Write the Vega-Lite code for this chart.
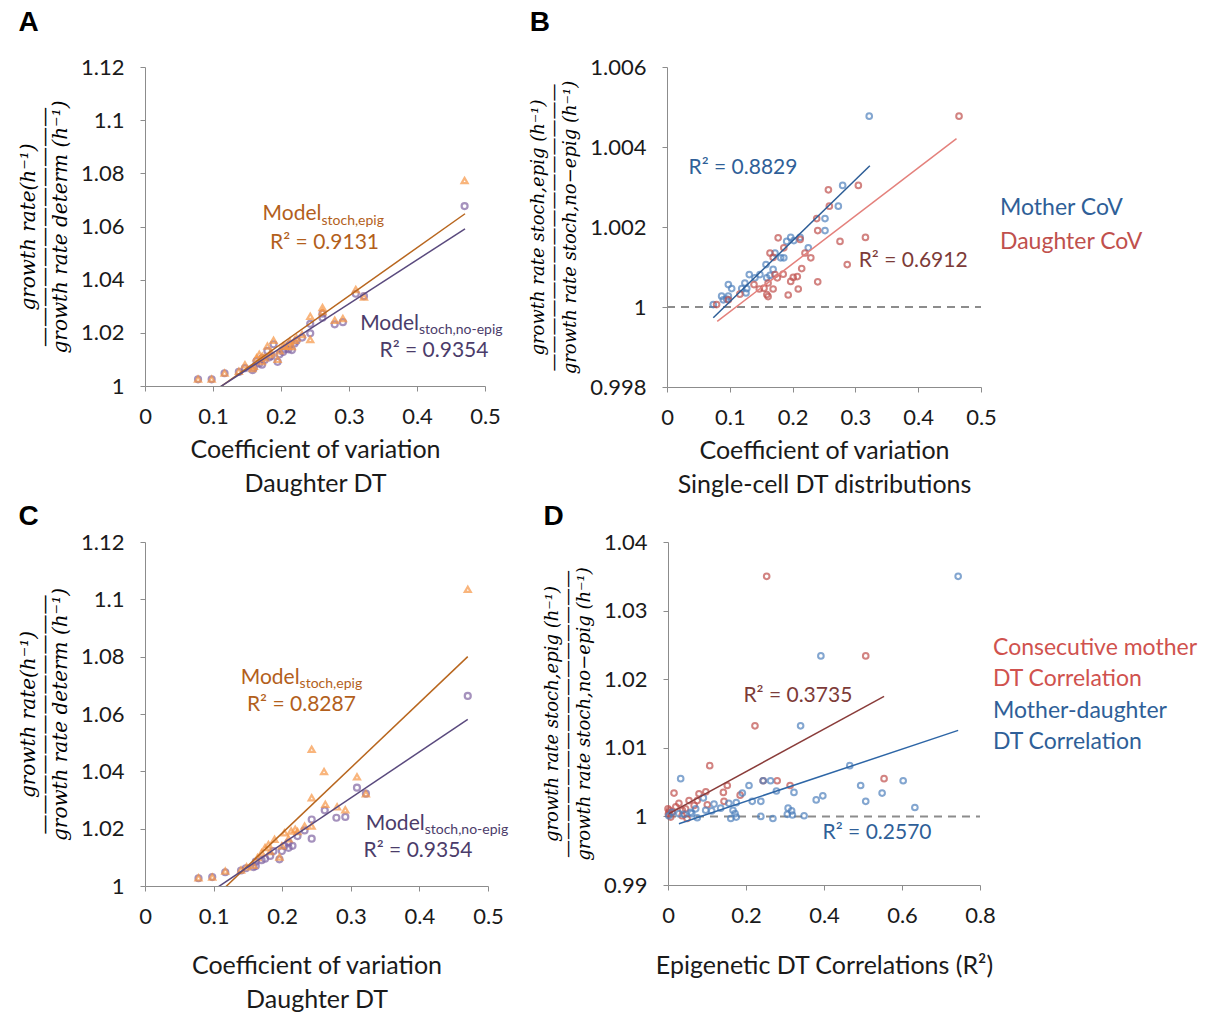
{
"$schema": "https://vega.github.io/schema/vega-lite/v6.json",
"background": "white",
"padding": {"left": 18, "top": 9, "right": 5, "bottom": 2},
"datasets": {
"pts": [
{"p":"A","s":"noepig","x":0.078,"y":1.0025},{"p":"A","s":"noepig","x":0.098,"y":1.0025},{"p":"A","s":"noepig","x":0.117,"y":1.0048},{"p":"A","s":"noepig","x":0.138,"y":1.0053},{"p":"A","s":"noepig","x":0.147,"y":1.0067},{"p":"A","s":"noepig","x":0.158,"y":1.006},{"p":"A","s":"noepig","x":0.16,"y":1.0068},{"p":"A","s":"noepig","x":0.164,"y":1.0094},{"p":"A","s":"noepig","x":0.168,"y":1.0085},{"p":"A","s":"noepig","x":0.172,"y":1.008},{"p":"A","s":"noepig","x":0.1725,"y":1.0105},{"p":"A","s":"noepig","x":0.176,"y":1.0098},{"p":"A","s":"noepig","x":0.18,"y":1.0132},{"p":"A","s":"noepig","x":0.183,"y":1.0108},{"p":"A","s":"noepig","x":0.186,"y":1.0113},{"p":"A","s":"noepig","x":0.189,"y":1.0157},{"p":"A","s":"noepig","x":0.195,"y":1.0091},{"p":"A","s":"noepig","x":0.198,"y":1.0119},{"p":"A","s":"noepig","x":0.203,"y":1.0128},{"p":"A","s":"noepig","x":0.206,"y":1.0138},{"p":"A","s":"noepig","x":0.211,"y":1.0138},{"p":"A","s":"noepig","x":0.213,"y":1.0157},{"p":"A","s":"noepig","x":0.216,"y":1.0135},{"p":"A","s":"noepig","x":0.22,"y":1.016},{"p":"A","s":"noepig","x":0.223,"y":1.017},{"p":"A","s":"noepig","x":0.231,"y":1.0182},{"p":"A","s":"noepig","x":0.243,"y":1.0198},{"p":"A","s":"noepig","x":0.243,"y":1.0234},{"p":"A","s":"noepig","x":0.261,"y":1.0257},{"p":"A","s":"noepig","x":0.261,"y":1.0272},{"p":"A","s":"noepig","x":0.279,"y":1.0232},{"p":"A","s":"noepig","x":0.291,"y":1.024},{"p":"A","s":"noepig","x":0.31,"y":1.0347},{"p":"A","s":"noepig","x":0.322,"y":1.0338},{"p":"A","s":"noepig","x":0.47,"y":1.0677},
{"p":"A","s":"epig","x":0.078,"y":1.0026},{"p":"A","s":"epig","x":0.098,"y":1.0026},{"p":"A","s":"epig","x":0.117,"y":1.0049},{"p":"A","s":"epig","x":0.138,"y":1.0055},{"p":"A","s":"epig","x":0.147,"y":1.008},{"p":"A","s":"epig","x":0.158,"y":1.0066},{"p":"A","s":"epig","x":0.16,"y":1.0074},{"p":"A","s":"epig","x":0.164,"y":1.0106},{"p":"A","s":"epig","x":0.168,"y":1.0119},{"p":"A","s":"epig","x":0.172,"y":1.0092},{"p":"A","s":"epig","x":0.1725,"y":1.0112},{"p":"A","s":"epig","x":0.176,"y":1.0106},{"p":"A","s":"epig","x":0.18,"y":1.015},{"p":"A","s":"epig","x":0.183,"y":1.0118},{"p":"A","s":"epig","x":0.186,"y":1.0125},{"p":"A","s":"epig","x":0.189,"y":1.0172},{"p":"A","s":"epig","x":0.195,"y":1.01},{"p":"A","s":"epig","x":0.198,"y":1.0132},{"p":"A","s":"epig","x":0.203,"y":1.015},{"p":"A","s":"epig","x":0.206,"y":1.015},{"p":"A","s":"epig","x":0.211,"y":1.015},{"p":"A","s":"epig","x":0.213,"y":1.0168},{"p":"A","s":"epig","x":0.216,"y":1.0148},{"p":"A","s":"epig","x":0.22,"y":1.0172},{"p":"A","s":"epig","x":0.223,"y":1.018},{"p":"A","s":"epig","x":0.231,"y":1.0194},{"p":"A","s":"epig","x":0.243,"y":1.0175},{"p":"A","s":"epig","x":0.243,"y":1.0262},{"p":"A","s":"epig","x":0.261,"y":1.0295},{"p":"A","s":"epig","x":0.261,"y":1.028},{"p":"A","s":"epig","x":0.279,"y":1.0247},{"p":"A","s":"epig","x":0.291,"y":1.0254},{"p":"A","s":"epig","x":0.31,"y":1.0363},{"p":"A","s":"epig","x":0.322,"y":1.0335},{"p":"A","s":"epig","x":0.47,"y":1.0773},
{"p":"C","s":"noepig","x":0.078,"y":1.0027},{"p":"C","s":"noepig","x":0.098,"y":1.0031},{"p":"C","s":"noepig","x":0.117,"y":1.0048},{"p":"C","s":"noepig","x":0.14,"y":1.0054},{"p":"C","s":"noepig","x":0.147,"y":1.0062},{"p":"C","s":"noepig","x":0.158,"y":1.0066},{"p":"C","s":"noepig","x":0.1615,"y":1.007},{"p":"C","s":"noepig","x":0.1615,"y":1.0085},{"p":"C","s":"noepig","x":0.17,"y":1.009},{"p":"C","s":"noepig","x":0.175,"y":1.0095},{"p":"C","s":"noepig","x":0.1825,"y":1.0105},{"p":"C","s":"noepig","x":0.1873,"y":1.0122},{"p":"C","s":"noepig","x":0.196,"y":1.0093},{"p":"C","s":"noepig","x":0.1995,"y":1.0122},{"p":"C","s":"noepig","x":0.2034,"y":1.014},{"p":"C","s":"noepig","x":0.2092,"y":1.0133},{"p":"C","s":"noepig","x":0.2092,"y":1.0151},{"p":"C","s":"noepig","x":0.215,"y":1.014},{"p":"C","s":"noepig","x":0.2223,"y":1.0174},{"p":"C","s":"noepig","x":0.2326,"y":1.0194},{"p":"C","s":"noepig","x":0.243,"y":1.0232},{"p":"C","s":"noepig","x":0.243,"y":1.0165},{"p":"C","s":"noepig","x":0.262,"y":1.0264},{"p":"C","s":"noepig","x":0.279,"y":1.0238},{"p":"C","s":"noepig","x":0.292,"y":1.0241},{"p":"C","s":"noepig","x":0.309,"y":1.0343},{"p":"C","s":"noepig","x":0.322,"y":1.0322},{"p":"C","s":"noepig","x":0.4705,"y":1.0663},
{"p":"C","s":"epig","x":0.078,"y":1.0029},{"p":"C","s":"epig","x":0.098,"y":1.0031},{"p":"C","s":"epig","x":0.117,"y":1.0052},{"p":"C","s":"epig","x":0.14,"y":1.0056},{"p":"C","s":"epig","x":0.148,"y":1.0067},{"p":"C","s":"epig","x":0.158,"y":1.0072},{"p":"C","s":"epig","x":0.164,"y":1.0099},{"p":"C","s":"epig","x":0.17,"y":1.0116},{"p":"C","s":"epig","x":0.175,"y":1.0134},{"p":"C","s":"epig","x":0.18,"y":1.0145},{"p":"C","s":"epig","x":0.1825,"y":1.012},{"p":"C","s":"epig","x":0.1888,"y":1.0163},{"p":"C","s":"epig","x":0.196,"y":1.0101},{"p":"C","s":"epig","x":0.1995,"y":1.014},{"p":"C","s":"epig","x":0.2034,"y":1.0186},{"p":"C","s":"epig","x":0.2092,"y":1.0165},{"p":"C","s":"epig","x":0.2131,"y":1.0192},{"p":"C","s":"epig","x":0.219,"y":1.0198},{"p":"C","s":"epig","x":0.2223,"y":1.019},{"p":"C","s":"epig","x":0.2326,"y":1.0209},{"p":"C","s":"epig","x":0.243,"y":1.0209},{"p":"C","s":"epig","x":0.243,"y":1.0308},{"p":"C","s":"epig","x":0.243,"y":1.0477},{"p":"C","s":"epig","x":0.261,"y":1.0399},{"p":"C","s":"epig","x":0.2628,"y":1.0285},{"p":"C","s":"epig","x":0.28,"y":1.0276},{"p":"C","s":"epig","x":0.292,"y":1.0266},{"p":"C","s":"epig","x":0.309,"y":1.0381},{"p":"C","s":"epig","x":0.322,"y":1.0322},{"p":"C","s":"epig","x":0.4705,"y":1.1035},
{"p":"B","s":"Mother CoV","x":0.0737,"y":1.00006},{"p":"B","s":"Mother CoV","x":0.087,"y":1.00027},{"p":"B","s":"Mother CoV","x":0.0897,"y":1.00018},{"p":"B","s":"Mother CoV","x":0.095,"y":1.0002},{"p":"B","s":"Mother CoV","x":0.0977,"y":1.00056},{"p":"B","s":"Mother CoV","x":0.0977,"y":1.00027},{"p":"B","s":"Mother CoV","x":0.103,"y":1.00046},{"p":"B","s":"Mother CoV","x":0.119,"y":1.00046},{"p":"B","s":"Mother CoV","x":0.124,"y":1.0006},{"p":"B","s":"Mother CoV","x":0.1258,"y":1.00035},{"p":"B","s":"Mother CoV","x":0.127,"y":1.00046},{"p":"B","s":"Mother CoV","x":0.131,"y":1.00081},{"p":"B","s":"Mother CoV","x":0.14,"y":1.00073},{"p":"B","s":"Mother CoV","x":0.148,"y":1.00081},{"p":"B","s":"Mother CoV","x":0.1576,"y":1.00106},{"p":"B","s":"Mother CoV","x":0.1588,"y":1.00073},{"p":"B","s":"Mother CoV","x":0.164,"y":1.00079},{"p":"B","s":"Mother CoV","x":0.169,"y":1.00094},{"p":"B","s":"Mother CoV","x":0.172,"y":1.00135},{"p":"B","s":"Mother CoV","x":0.181,"y":1.00123},{"p":"B","s":"Mother CoV","x":0.186,"y":1.00123},{"p":"B","s":"Mother CoV","x":0.1906,"y":1.00164},{"p":"B","s":"Mother CoV","x":0.197,"y":1.00174},{"p":"B","s":"Mother CoV","x":0.202,"y":1.00166},{"p":"B","s":"Mother CoV","x":0.212,"y":1.00174},{"p":"B","s":"Mother CoV","x":0.225,"y":1.00148},{"p":"B","s":"Mother CoV","x":0.2516,"y":1.00221},{"p":"B","s":"Mother CoV","x":0.2516,"y":1.00191},{"p":"B","s":"Mother CoV","x":0.2728,"y":1.00252},{"p":"B","s":"Mother CoV","x":0.2797,"y":1.00304},{"p":"B","s":"Mother CoV","x":0.322,"y":1.00477},
{"p":"B","s":"Daughter CoV","x":0.079,"y":1.00006},{"p":"B","s":"Daughter CoV","x":0.0977,"y":1.00018},{"p":"B","s":"Daughter CoV","x":0.116,"y":1.00032},{"p":"B","s":"Daughter CoV","x":0.1385,"y":1.00056},{"p":"B","s":"Daughter CoV","x":0.147,"y":1.00045},{"p":"B","s":"Daughter CoV","x":0.1545,"y":1.00047},{"p":"B","s":"Daughter CoV","x":0.161,"y":1.0006},{"p":"B","s":"Daughter CoV","x":0.159,"y":1.00031},{"p":"B","s":"Daughter CoV","x":0.161,"y":1.00026},{"p":"B","s":"Daughter CoV","x":0.169,"y":1.00045},{"p":"B","s":"Daughter CoV","x":0.172,"y":1.00081},{"p":"B","s":"Daughter CoV","x":0.177,"y":1.00173},{"p":"B","s":"Daughter CoV","x":0.164,"y":1.00135},{"p":"B","s":"Daughter CoV","x":0.169,"y":1.00124},{"p":"B","s":"Daughter CoV","x":0.1757,"y":1.00073},{"p":"B","s":"Daughter CoV","x":0.186,"y":1.00148},{"p":"B","s":"Daughter CoV","x":0.185,"y":1.00082},{"p":"B","s":"Daughter CoV","x":0.193,"y":1.0003},{"p":"B","s":"Daughter CoV","x":0.197,"y":1.00064},{"p":"B","s":"Daughter CoV","x":0.201,"y":1.00074},{"p":"B","s":"Daughter CoV","x":0.2075,"y":1.00076},{"p":"B","s":"Daughter CoV","x":0.212,"y":1.00169},{"p":"B","s":"Daughter CoV","x":0.209,"y":1.00045},{"p":"B","s":"Daughter CoV","x":0.2145,"y":1.00096},{"p":"B","s":"Daughter CoV","x":0.2197,"y":1.00135},{"p":"B","s":"Daughter CoV","x":0.229,"y":1.00123},{"p":"B","s":"Daughter CoV","x":0.24,"y":1.00191},{"p":"B","s":"Daughter CoV","x":0.24,"y":1.00063},{"p":"B","s":"Daughter CoV","x":0.2384,"y":1.00221},{"p":"B","s":"Daughter CoV","x":0.257,"y":1.00293},{"p":"B","s":"Daughter CoV","x":0.2585,"y":1.00252},{"p":"B","s":"Daughter CoV","x":0.2755,"y":1.00164},{"p":"B","s":"Daughter CoV","x":0.287,"y":1.00106},{"p":"B","s":"Daughter CoV","x":0.3047,"y":1.00304},{"p":"B","s":"Daughter CoV","x":0.316,"y":1.00174},{"p":"B","s":"Daughter CoV","x":0.465,"y":1.00477},
{"p":"D","s":"Consecutive mother DT Correlation","x":0.253,"y":1.035},{"p":"D","s":"Consecutive mother DT Correlation","x":0.507,"y":1.0234},{"p":"D","s":"Consecutive mother DT Correlation","x":0.223,"y":1.0132},{"p":"D","s":"Consecutive mother DT Correlation","x":0.107,"y":1.0074},{"p":"D","s":"Consecutive mother DT Correlation","x":0.554,"y":1.0055},{"p":"D","s":"Consecutive mother DT Correlation","x":0.244,"y":1.0052},{"p":"D","s":"Consecutive mother DT Correlation","x":0.28,"y":1.0052},{"p":"D","s":"Consecutive mother DT Correlation","x":0.313,"y":1.0045},{"p":"D","s":"Consecutive mother DT Correlation","x":0.152,"y":1.0045},{"p":"D","s":"Consecutive mother DT Correlation","x":0.142,"y":1.0035},{"p":"D","s":"Consecutive mother DT Correlation","x":0.1436,"y":1.0022},{"p":"D","s":"Consecutive mother DT Correlation","x":0.185,"y":1.0031},{"p":"D","s":"Consecutive mother DT Correlation","x":0.097,"y":1.0036},{"p":"D","s":"Consecutive mother DT Correlation","x":0.0795,"y":1.0033},{"p":"D","s":"Consecutive mother DT Correlation","x":0.0154,"y":1.0034},{"p":"D","s":"Consecutive mother DT Correlation","x":0.054,"y":1.0023},{"p":"D","s":"Consecutive mother DT Correlation","x":0.075,"y":1.0023},{"p":"D","s":"Consecutive mother DT Correlation","x":0.028,"y":1.0019},{"p":"D","s":"Consecutive mother DT Correlation","x":0.1008,"y":1.0017},{"p":"D","s":"Consecutive mother DT Correlation","x":0.067,"y":1.0016},{"p":"D","s":"Consecutive mother DT Correlation","x":0.045,"y":1.0011},{"p":"D","s":"Consecutive mother DT Correlation","x":0.02,"y":1.0014},{"p":"D","s":"Consecutive mother DT Correlation","x":0.0,"y":1.0011},{"p":"D","s":"Consecutive mother DT Correlation","x":0.0026,"y":1.0006},{"p":"D","s":"Consecutive mother DT Correlation","x":0.011,"y":1.0006},{"p":"D","s":"Consecutive mother DT Correlation","x":0.037,"y":1.0009},{"p":"D","s":"Consecutive mother DT Correlation","x":0.007,"y":0.9999},{"p":"D","s":"Consecutive mother DT Correlation","x":0.036,"y":1.0001},{"p":"D","s":"Consecutive mother DT Correlation","x":0.049,"y":0.9997},{"p":"D","s":"Consecutive mother DT Correlation","x":0.001,"y":1.0003},{"p":"D","s":"Consecutive mother DT Correlation","x":0.004,"y":1.0009},
{"p":"D","s":"Mother-daughter DT Correlation","x":0.744,"y":1.035},{"p":"D","s":"Mother-daughter DT Correlation","x":0.392,"y":1.0234},{"p":"D","s":"Mother-daughter DT Correlation","x":0.34,"y":1.0132},{"p":"D","s":"Mother-daughter DT Correlation","x":0.466,"y":1.0074},{"p":"D","s":"Mother-daughter DT Correlation","x":0.0325,"y":1.0055},{"p":"D","s":"Mother-daughter DT Correlation","x":0.603,"y":1.0052},{"p":"D","s":"Mother-daughter DT Correlation","x":0.263,"y":1.0052},{"p":"D","s":"Mother-daughter DT Correlation","x":0.244,"y":1.0052},{"p":"D","s":"Mother-daughter DT Correlation","x":0.2077,"y":1.0045},{"p":"D","s":"Mother-daughter DT Correlation","x":0.494,"y":1.0045},{"p":"D","s":"Mother-daughter DT Correlation","x":0.278,"y":1.0037},{"p":"D","s":"Mother-daughter DT Correlation","x":0.323,"y":1.0035},{"p":"D","s":"Mother-daughter DT Correlation","x":0.1906,"y":1.0034},{"p":"D","s":"Mother-daughter DT Correlation","x":0.549,"y":1.0034},{"p":"D","s":"Mother-daughter DT Correlation","x":0.397,"y":1.003},{"p":"D","s":"Mother-daughter DT Correlation","x":0.38,"y":1.0024},{"p":"D","s":"Mother-daughter DT Correlation","x":0.507,"y":1.0022},{"p":"D","s":"Mother-daughter DT Correlation","x":0.216,"y":1.0022},{"p":"D","s":"Mother-daughter DT Correlation","x":0.238,"y":1.0022},{"p":"D","s":"Mother-daughter DT Correlation","x":0.0906,"y":1.0027},{"p":"D","s":"Mother-daughter DT Correlation","x":0.118,"y":1.0018},{"p":"D","s":"Mother-daughter DT Correlation","x":0.156,"y":1.0019},{"p":"D","s":"Mother-daughter DT Correlation","x":0.175,"y":1.002},{"p":"D","s":"Mother-daughter DT Correlation","x":0.135,"y":1.0012},{"p":"D","s":"Mother-daughter DT Correlation","x":0.112,"y":1.0008},{"p":"D","s":"Mother-daughter DT Correlation","x":0.0966,"y":1.0009},{"p":"D","s":"Mother-daughter DT Correlation","x":0.1667,"y":1.0009},{"p":"D","s":"Mother-daughter DT Correlation","x":0.172,"y":1.0004},{"p":"D","s":"Mother-daughter DT Correlation","x":0.161,"y":0.9997},{"p":"D","s":"Mother-daughter DT Correlation","x":0.175,"y":0.9999},{"p":"D","s":"Mother-daughter DT Correlation","x":0.238,"y":1.0},{"p":"D","s":"Mother-daughter DT Correlation","x":0.269,"y":0.9997},{"p":"D","s":"Mother-daughter DT Correlation","x":0.308,"y":1.0012},{"p":"D","s":"Mother-daughter DT Correlation","x":0.317,"y":1.0008},{"p":"D","s":"Mother-daughter DT Correlation","x":0.306,"y":1.0003},{"p":"D","s":"Mother-daughter DT Correlation","x":0.319,"y":1.0002},{"p":"D","s":"Mother-daughter DT Correlation","x":0.349,"y":1.0001},{"p":"D","s":"Mother-daughter DT Correlation","x":0.633,"y":1.0013},{"p":"D","s":"Mother-daughter DT Correlation","x":0.058,"y":1.0006},{"p":"D","s":"Mother-daughter DT Correlation","x":0.028,"y":1.0004},{"p":"D","s":"Mother-daughter DT Correlation","x":0.041,"y":1.0003},{"p":"D","s":"Mother-daughter DT Correlation","x":0.061,"y":1.0004},{"p":"D","s":"Mother-daughter DT Correlation","x":0.075,"y":0.9998},{"p":"D","s":"Mother-daughter DT Correlation","x":0.071,"y":1.0011},{"p":"D","s":"Mother-daughter DT Correlation","x":0.01,"y":1.0006},{"p":"D","s":"Mother-daughter DT Correlation","x":0.002,"y":1.0001}
],
"fits": [
{"p":"A","s":"epig","x":0.078,"y":0.9937},{"p":"A","s":"epig","x":0.4706,"y":1.0648},
{"p":"A","s":"noepig","x":0.078,"y":0.9943},{"p":"A","s":"noepig","x":0.4706,"y":1.0591},
{"p":"C","s":"epig","x":0.078,"y":0.9907},{"p":"C","s":"epig","x":0.4705,"y":1.08},
{"p":"C","s":"noepig","x":0.078,"y":0.9951},{"p":"C","s":"noepig","x":0.4705,"y":1.0581},
{"p":"B","s":"ref","x":0,"y":1},{"p":"B","s":"ref","x":0.5,"y":1},
{"p":"B","s":"mother","x":0.0737,"y":0.99973},{"p":"B","s":"mother","x":0.323,"y":1.00353},
{"p":"B","s":"daughter","x":0.08,"y":0.99964},{"p":"B","s":"daughter","x":0.461,"y":1.00421},
{"p":"D","s":"ref","x":0,"y":1},{"p":"D","s":"ref","x":0.8,"y":1},
{"p":"D","s":"consec","x":0.0026,"y":1.0004},{"p":"D","s":"consec","x":0.554,"y":1.0175},
{"p":"D","s":"md","x":0.028,"y":0.99894},{"p":"D","s":"md","x":0.744,"y":1.01254}
],
"notes": [
{"p":"A","s":"epig","k":"m","t":"Model","x":0.2595,"y":1.0647},
{"p":"A","s":"epig","k":"sub","t":"stoch,epig","x":0.2595,"y":1.0622},
{"p":"A","s":"epig","k":"r","t":"R² = 0.9131","x":0.264,"y":1.0539},
{"p":"A","s":"noepig","k":"m","t":"Model","x":0.403,"y":1.0233},
{"p":"A","s":"noepig","k":"sub","t":"stoch,no-epig","x":0.403,"y":1.0209},
{"p":"A","s":"noepig","k":"r","t":"R² = 0.9354","x":0.425,"y":1.013},
{"p":"C","s":"epig","k":"m","t":"Model","x":0.2254,"y":1.0725},
{"p":"C","s":"epig","k":"sub","t":"stoch,epig","x":0.2254,"y":1.0705},
{"p":"C","s":"epig","k":"r","t":"R² = 0.8287","x":0.228,"y":1.063},
{"p":"C","s":"noepig","k":"m","t":"Model","x":0.4077,"y":1.0218},
{"p":"C","s":"noepig","k":"sub","t":"stoch,no-epig","x":0.4077,"y":1.0196},
{"p":"C","s":"noepig","k":"r","t":"R² = 0.9354","x":0.398,"y":1.0121},
{"p":"B","s":"mother","k":"r","t":"R² = 0.8829","x":0.121,"y":1.00347},
{"p":"B","s":"daughter","k":"r","t":"R² = 0.6912","x":0.392,"y":1.00114},
{"p":"D","s":"consec","k":"r","t":"R² = 0.3735","x":0.333,"y":1.0176},
{"p":"D","s":"md","k":"r","t":"R² = 0.2570","x":0.536,"y":0.99762}
]
},
"vconcat": [
{"hconcat": [
{
"width": 340, "height": 319,
"title": {"text": "A", "offset": 19},
"encoding": {
"x": {"field": "x", "type": "quantitative", "scale": {"domain": [0, 0.5], "nice": false}, "axis": {"values": [0, 0.1, 0.2, 0.3, 0.4, 0.5], "title": ["Coefficient of variation", "Daughter DT"]}},
"y": {"field": "y", "type": "quantitative", "scale": {"domain": [1, 1.12], "nice": false, "zero": false}, "axis": {"values": [1, 1.02, 1.04, 1.06, 1.08, 1.1, 1.12], "title": ["growth rate(h⁻¹)", "————————————", "growth rate determ (h⁻¹)"]}}
},
"layer": [
{"data": {"name": "pts"}, "transform": [{"filter": "datum.p == 'A' && datum.s == 'noepig'"}], "mark": {"type": "point", "shape": "circle", "filled": false, "color": "#8064a2", "size": 36, "strokeWidth": 2.2}},
{"data": {"name": "pts"}, "transform": [{"filter": "datum.p == 'A' && datum.s == 'epig'"}], "mark": {"type": "point", "shape": "triangle-up", "filled": false, "color": "#f79646", "size": 36, "strokeWidth": 2.2}},
{"data": {"name": "fits"}, "transform": [{"filter": "datum.p == 'A' && datum.s == 'epig'"}], "mark": {"type": "line", "color": "#b8661e", "strokeWidth": 1.5, "clip": true}},
{"data": {"name": "fits"}, "transform": [{"filter": "datum.p == 'A' && datum.s == 'noepig'"}], "mark": {"type": "line", "color": "#5a4a7e", "strokeWidth": 1.5, "clip": true}},
{"data": {"name": "notes"}, "transform": [{"filter": "datum.p == 'A' && datum.s == 'epig' && datum.k == 'm'"}], "mark": {"type": "text", "align": "right", "baseline": "middle", "fontSize": 21, "color": "#b35f1c"}, "encoding": {"text": {"field": "t"}}},
{"data": {"name": "notes"}, "transform": [{"filter": "datum.p == 'A' && datum.s == 'epig' && datum.k == 'sub'"}], "mark": {"type": "text", "align": "left", "baseline": "middle", "fontSize": 14, "color": "#b35f1c"}, "encoding": {"text": {"field": "t"}}},
{"data": {"name": "notes"}, "transform": [{"filter": "datum.p == 'A' && datum.s == 'epig' && datum.k == 'r'"}], "mark": {"type": "text", "align": "center", "baseline": "middle", "fontSize": 21, "color": "#b35f1c"}, "encoding": {"text": {"field": "t"}}},
{"data": {"name": "notes"}, "transform": [{"filter": "datum.p == 'A' && datum.s == 'noepig' && datum.k == 'm'"}], "mark": {"type": "text", "align": "right", "baseline": "middle", "fontSize": 21, "color": "#4b3c6a"}, "encoding": {"text": {"field": "t"}}},
{"data": {"name": "notes"}, "transform": [{"filter": "datum.p == 'A' && datum.s == 'noepig' && datum.k == 'sub'"}], "mark": {"type": "text", "align": "left", "baseline": "middle", "fontSize": 14, "color": "#4b3c6a"}, "encoding": {"text": {"field": "t"}}},
{"data": {"name": "notes"}, "transform": [{"filter": "datum.p == 'A' && datum.s == 'noepig' && datum.k == 'r'"}], "mark": {"type": "text", "align": "center", "baseline": "middle", "fontSize": 21, "color": "#4b3c6a"}, "encoding": {"text": {"field": "t"}}}
]
},
{
"width": 314, "height": 320,
"title": {"text": "B", "offset": 19},
"encoding": {
"x": {"field": "x", "type": "quantitative", "scale": {"domain": [0, 0.5], "nice": false}, "axis": {"values": [0, 0.1, 0.2, 0.3, 0.4, 0.5], "title": ["Coefficient of variation", "Single-cell DT distributions"]}},
"y": {"field": "y", "type": "quantitative", "scale": {"domain": [0.998, 1.006], "nice": false, "zero": false}, "axis": {"values": [0.998, 1, 1.002, 1.004, 1.006], "titleFontSize": 18, "title": ["growth rate stoch,epig (h⁻¹)", "————————————————", "growth rate stoch,no−epig (h⁻¹)"]}}
},
"layer": [
{"data": {"name": "fits"}, "transform": [{"filter": "datum.p == 'B' && datum.s == 'ref'"}], "mark": {"type": "line", "color": "#8c8c8c", "strokeWidth": 2, "strokeDash": [8, 6]}},
{"data": {"name": "pts"}, "transform": [{"filter": "datum.p == 'B'"}], "mark": {"type": "point", "shape": "circle", "filled": false, "size": 32, "strokeWidth": 2},
 "encoding": {"color": {"field": "s", "type": "nominal", "scale": {"domain": ["Mother CoV", "Daughter CoV"], "range": ["#4f81bd", "#c0504d"]},
  "legend": {"title": null, "orient": "none", "legendX": 310, "legendY": 129, "symbolOpacity": 0, "symbolSize": 0, "labelOffset": 0, "padding": 0, "rowPadding": 10, "labelFont": "Lato", "labelFontSize": 23, "labelLimit": 300, "labelColor": {"expr": "datum.value == 'Mother CoV' ? '#2f5f98' : '#c0504d'"}}}}},
{"data": {"name": "fits"}, "transform": [{"filter": "datum.p == 'B' && datum.s == 'mother'"}], "mark": {"type": "line", "color": "#2c5d96", "strokeWidth": 1.5}},
{"data": {"name": "fits"}, "transform": [{"filter": "datum.p == 'B' && datum.s == 'daughter'"}], "mark": {"type": "line", "color": "#e4817c", "strokeWidth": 1.5}},
{"data": {"name": "notes"}, "transform": [{"filter": "datum.p == 'B' && datum.s == 'mother'"}], "mark": {"type": "text", "align": "center", "baseline": "middle", "fontSize": 21, "color": "#2f5f98"}, "encoding": {"text": {"field": "t"}}},
{"data": {"name": "notes"}, "transform": [{"filter": "datum.p == 'B' && datum.s == 'daughter'"}], "mark": {"type": "text", "align": "center", "baseline": "middle", "fontSize": 21, "color": "#7d3b38"}, "encoding": {"text": {"field": "t"}}}
]
}
], "spacing": 26, "resolve": {"scale": {"color": "independent"}, "legend": {"color": "independent"}}},
{"hconcat": [
{
"width": 343, "height": 344,
"title": {"text": "C", "offset": 0},
"encoding": {
"x": {"field": "x", "type": "quantitative", "scale": {"domain": [0, 0.5], "nice": false}, "axis": {"values": [0, 0.1, 0.2, 0.3, 0.4, 0.5], "title": ["Coefficient of variation", "Daughter DT"], "titlePadding": 26}},
"y": {"field": "y", "type": "quantitative", "scale": {"domain": [1, 1.12], "nice": false, "zero": false}, "axis": {"values": [1, 1.02, 1.04, 1.06, 1.08, 1.1, 1.12], "title": ["growth rate(h⁻¹)", "————————————", "growth rate determ (h⁻¹)"]}}
},
"layer": [
{"data": {"name": "pts"}, "transform": [{"filter": "datum.p == 'C' && datum.s == 'noepig'"}], "mark": {"type": "point", "shape": "circle", "filled": false, "color": "#8064a2", "size": 36, "strokeWidth": 2.2}},
{"data": {"name": "pts"}, "transform": [{"filter": "datum.p == 'C' && datum.s == 'epig'"}], "mark": {"type": "point", "shape": "triangle-up", "filled": false, "color": "#f79646", "size": 36, "strokeWidth": 2.2}},
{"data": {"name": "fits"}, "transform": [{"filter": "datum.p == 'C' && datum.s == 'epig'"}], "mark": {"type": "line", "color": "#b8661e", "strokeWidth": 1.5, "clip": true}},
{"data": {"name": "fits"}, "transform": [{"filter": "datum.p == 'C' && datum.s == 'noepig'"}], "mark": {"type": "line", "color": "#5a4a7e", "strokeWidth": 1.5, "clip": true}},
{"data": {"name": "notes"}, "transform": [{"filter": "datum.p == 'C' && datum.s == 'epig' && datum.k == 'm'"}], "mark": {"type": "text", "align": "right", "baseline": "middle", "fontSize": 21, "color": "#b35f1c"}, "encoding": {"text": {"field": "t"}}},
{"data": {"name": "notes"}, "transform": [{"filter": "datum.p == 'C' && datum.s == 'epig' && datum.k == 'sub'"}], "mark": {"type": "text", "align": "left", "baseline": "middle", "fontSize": 14, "color": "#b35f1c"}, "encoding": {"text": {"field": "t"}}},
{"data": {"name": "notes"}, "transform": [{"filter": "datum.p == 'C' && datum.s == 'epig' && datum.k == 'r'"}], "mark": {"type": "text", "align": "center", "baseline": "middle", "fontSize": 21, "color": "#b35f1c"}, "encoding": {"text": {"field": "t"}}},
{"data": {"name": "notes"}, "transform": [{"filter": "datum.p == 'C' && datum.s == 'noepig' && datum.k == 'm'"}], "mark": {"type": "text", "align": "right", "baseline": "middle", "fontSize": 21, "color": "#4b3c6a"}, "encoding": {"text": {"field": "t"}}},
{"data": {"name": "notes"}, "transform": [{"filter": "datum.p == 'C' && datum.s == 'noepig' && datum.k == 'sub'"}], "mark": {"type": "text", "align": "left", "baseline": "middle", "fontSize": 14, "color": "#4b3c6a"}, "encoding": {"text": {"field": "t"}}},
{"data": {"name": "notes"}, "transform": [{"filter": "datum.p == 'C' && datum.s == 'noepig' && datum.k == 'r'"}], "mark": {"type": "text", "align": "center", "baseline": "middle", "fontSize": 21, "color": "#4b3c6a"}, "encoding": {"text": {"field": "t"}}}
]
},
{
"width": 312, "height": 343,
"title": {"text": "D", "offset": 0},
"encoding": {
"x": {"field": "x", "type": "quantitative", "scale": {"domain": [0, 0.8], "nice": false}, "axis": {"values": [0, 0.2, 0.4, 0.6, 0.8], "title": "Epigenetic DT Correlations (R²)", "titlePadding": 27}},
"y": {"field": "y", "type": "quantitative", "scale": {"domain": [0.99, 1.04], "nice": false, "zero": false}, "axis": {"values": [0.99, 1, 1.01, 1.02, 1.03, 1.04], "titleFontSize": 18, "title": ["growth rate stoch,epig (h⁻¹)", "————————————————", "growth rate stoch,no−epig (h⁻¹)"]}}
},
"layer": [
{"data": {"name": "fits"}, "transform": [{"filter": "datum.p == 'D' && datum.s == 'ref'"}], "mark": {"type": "line", "color": "#8c8c8c", "strokeWidth": 2, "strokeDash": [8, 6]}},
{"data": {"name": "pts"}, "transform": [{"filter": "datum.p == 'D'"}], "mark": {"type": "point", "shape": "circle", "filled": false, "size": 32, "strokeWidth": 2},
 "encoding": {"color": {"field": "s", "type": "nominal", "scale": {"domain": ["Consecutive mother DT Correlation", "Mother-daughter DT Correlation"], "range": ["#c0504d", "#4f81bd"]},
  "legend": {"title": null, "orient": "none", "legendX": 302, "legendY": 94, "symbolOpacity": 0, "symbolSize": 0, "labelOffset": 0, "padding": 0, "rowPadding": 8, "labelFont": "Lato", "labelFontSize": 23, "labelLimit": 300,
   "labelExpr": "datum.value == 'Consecutive mother DT Correlation' ? ['Consecutive mother', ' DT Correlation'] : ['Mother-daughter', 'DT Correlation']",
   "labelColor": {"expr": "datum.value == 'Consecutive mother DT Correlation' ? '#d0524e' : '#2f5f98'"}}}}},
{"data": {"name": "fits"}, "transform": [{"filter": "datum.p == 'D' && datum.s == 'consec'"}], "mark": {"type": "line", "color": "#8a3c3a", "strokeWidth": 1.5}},
{"data": {"name": "fits"}, "transform": [{"filter": "datum.p == 'D' && datum.s == 'md'"}], "mark": {"type": "line", "color": "#2e66a6", "strokeWidth": 1.5}},
{"data": {"name": "notes"}, "transform": [{"filter": "datum.p == 'D' && datum.s == 'consec'"}], "mark": {"type": "text", "align": "center", "baseline": "middle", "fontSize": 21, "color": "#7d3b38"}, "encoding": {"text": {"field": "t"}}},
{"data": {"name": "notes"}, "transform": [{"filter": "datum.p == 'D' && datum.s == 'md'"}], "mark": {"type": "text", "align": "center", "baseline": "middle", "fontSize": 21, "color": "#2f5f98"}, "encoding": {"text": {"field": "t"}}}
]
}
], "spacing": 34, "resolve": {"scale": {"color": "independent"}, "legend": {"color": "independent"}}}
],
"spacing": 6,
"resolve": {"scale": {"color": "independent"}, "legend": {"color": "independent"}},
"config": {
"view": {"stroke": null},
"font": "Lato",
"text": {"font": "Lato"},
"style": {"guide-label": {"lineHeight": 31}},
"title": {"font": "Liberation Sans", "fontSize": 28, "fontWeight": "bold", "color": "#000000", "anchor": "start", "frame": "bounds", "offset": 14},
"axis": {"grid": false, "domainColor": "#8c8c8c", "tickColor": "#8c8c8c", "tickSize": 5, "labelFont": "Lato", "labelFontSize": 22, "labelColor": "#1a1a1a", "titleFont": "Lato", "titleFontSize": 25, "titleFontWeight": "normal", "titleColor": "#1a1a1a", "format": "~g", "labelFlush": false, "labelOverlap": false},
"axisX": {"labelPadding": 15, "titlePadding": 10, "titleLineHeight": 34},
"axisY": {"labelPadding": 16, "titlePadding": 10, "titleFont": "DejaVu Serif", "titleFontStyle": "italic", "titleFontSize": 20, "titleLineHeight": 16, "titleColor": "#000000"}
}
}
